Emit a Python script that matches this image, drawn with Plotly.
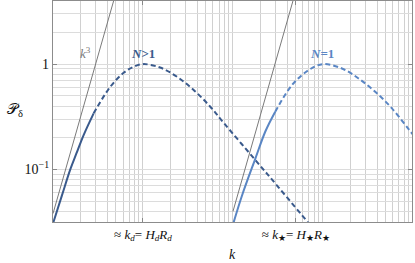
import plotly.graph_objects as go

# ---- data ----
# N>1 curve (dark), solid part then dashed part
dark_solid_k = [1.0, 1.26, 1.56, 1.82, 2.19, 2.83]
dark_solid_P = [0.0306, 0.0569, 0.1005, 0.1416, 0.212, 0.341]
dark_dash_k = [2.83, 4.34, 6.10, 7.87, 10.0, 15.5, 23.9, 36.6, 56.0, 79.4, 177, 321, 692, 794]
dark_dash_P = [0.341, 0.610, 0.828, 0.944, 1.0, 0.929, 0.759, 0.568, 0.394, 0.275, 0.123, 0.0676, 0.0309, 0.0269]

# N=1 curve (light)
light_solid_k = [97.7, 125.9, 177, 229, 295]
light_solid_P = [0.0279, 0.0562, 0.126, 0.229, 0.353]
light_dash_k = [295, 453, 692, 1000, 1626, 2489, 3811, 5848, 9750, 10000]
light_dash_P = [0.353, 0.632, 0.877, 1.0, 0.910, 0.731, 0.547, 0.380, 0.220, 0.214]

# k^3 reference lines
k3a_k = [1.0, 5.0]
k3a_P = [0.038, 4.75]
k3b_k = [100.0, 500.0]
k3b_P = [0.0398, 4.98]

# ticks
x_tickvals = [10, 500]
x_ticktext = ["≈ <i>k</i><sub><i>d</i></sub>= <i>H</i><sub><i>d</i></sub><i>R</i><sub><i>d</i></sub>",
              "≈ <i>k</i><sub>★</sub>= <i>H</i><sub>★</sub><i>R</i><sub>★</sub>"]
y_tickvals = [0.1, 1]
y_ticktext = ["10<sup>−1</sup>", "1"]

x_grid = [m * 10 ** e for e in range(0, 4) for m in range(1, 10)] + [10000]
y_grid = [m * 10 ** e for e in range(-2, 1) for m in range(1, 10)]

DARK = "#3a5a8c"
LIGHT = "#5a86c4"
GRAY = "#7a7a7a"
SERIF = "Liberation Serif"

fig = go.Figure()
fig.add_trace(go.Scatter(x=k3a_k, y=k3a_P, mode="lines", line=dict(color=GRAY, width=1)))
fig.add_trace(go.Scatter(x=k3b_k, y=k3b_P, mode="lines", line=dict(color=GRAY, width=1)))
fig.add_trace(go.Scatter(x=dark_solid_k, y=dark_solid_P, mode="lines", line=dict(color=DARK, width=2, shape="spline")))
fig.add_trace(go.Scatter(x=dark_dash_k, y=dark_dash_P, mode="lines", line=dict(color=DARK, width=2, shape="spline", dash="5px,3px")))
fig.add_trace(go.Scatter(x=light_solid_k, y=light_solid_P, mode="lines", line=dict(color=LIGHT, width=2, shape="spline")))
fig.add_trace(go.Scatter(x=light_dash_k, y=light_dash_P, mode="lines", line=dict(color=LIGHT, width=2, shape="spline", dash="5px,3px")))

fig.update_layout(
    width=415, height=263,
    margin=dict(l=53, r=3, t=1, b=41, autoexpand=False),
    paper_bgcolor="white", plot_bgcolor="white",
    showlegend=False,
    font=dict(family=SERIF, size=12, color="#111"),
)
fig.update_xaxes(
    type="log", range=[0, 3.99], automargin=False,
    tickmode="array", tickvals=x_tickvals, ticktext=x_ticktext,
    ticks="inside", ticklen=4, tickcolor="#888", tickwidth=1,
    showgrid=False, zeroline=False,
    showline=True, linecolor="#8c8c8c", linewidth=1.3, mirror="ticks",
    tickfont=dict(family=SERIF, size=13, color="#111"),
    minor=dict(tickmode="array", tickvals=x_grid, showgrid=True, gridcolor="#d0d0d0", gridwidth=1, ticks=""),
)
fig.update_yaxes(
    type="log", range=[-1.5, 0.6], automargin=False,
    tickmode="array", tickvals=y_tickvals, ticktext=y_ticktext,
    ticks="inside", ticklen=4, tickcolor="#888", tickwidth=1,
    showgrid=False, zeroline=False,
    showline=True, linecolor="#8c8c8c", linewidth=1.3, mirror="ticks",
    tickfont=dict(family=SERIF, size=14, color="#111"),
    minor=dict(tickmode="array", tickvals=y_grid, showgrid=True, gridcolor="#dcdcdc", gridwidth=1, ticks=""),
)

fig.add_annotation(x=0.36, y=0.104, xref="x", yref="y", text="<i>k</i><sup>3</sup>", showarrow=False,
                   font=dict(family=SERIF, size=13, color=GRAY))
fig.add_annotation(x=1.003, y=0.104, xref="x", yref="y", text="<b><i>N</i>>1</b>", showarrow=False,
                   font=dict(family=SERIF, size=13, color=DARK))
fig.add_annotation(x=2.99, y=0.104, xref="x", yref="y", text="<b><i>N</i>=1</b>", showarrow=False,
                   font=dict(family=SERIF, size=13, color=LIGHT))
# y title (horizontal, left of axis)
fig.add_annotation(x=-(53 - 15) / 359.0, y=0.507, xref="paper", yref="paper", xanchor="center", yanchor="middle",
                   text="𝒫<sub>δ</sub>", showarrow=False,
                   font=dict(family=SERIF, size=15, color="#111"))
# x title
fig.add_annotation(x=0.5, y=-(255 - 222) / 221.0, xref="paper", yref="paper", xanchor="center", yanchor="middle",
                   text="<i>k</i>", showarrow=False,
                   font=dict(family=SERIF, size=14, color="#111"))

fig.write_html("out.html", config={"displayModeBar": False},
               post_script="document.body.style.margin='0px';")
